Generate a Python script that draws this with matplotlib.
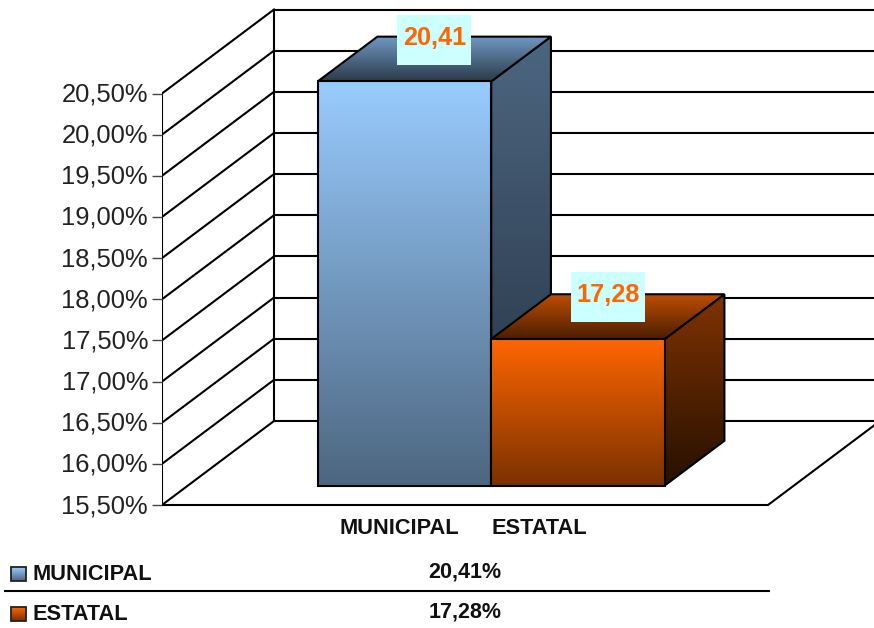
import matplotlib
matplotlib.use("Agg")
import matplotlib.pyplot as plt
import numpy as np
from matplotlib.colors import LinearSegmentedColormap
from matplotlib.patches import Polygon, Rectangle
from matplotlib.transforms import ScaledTranslation

plt.rcParams["font.family"] = ["Liberation Sans", "DejaVu Sans"]

categories = ["MUNICIPAL", "ESTATAL"]
values = [20.41, 17.28]
value_labels = ["20,41", "17,28"]
table_labels = ["20,41%", "17,28%"]
ticks = [15.5, 16.0, 16.5, 17.0, 17.5, 18.0, 18.5, 19.0, 19.5, 20.0, 20.5]
tick_labels = ["15,50%", "16,00%", "16,50%", "17,00%", "17,50%", "18,00%",
               "18,50%", "19,00%", "19,50%", "20,00%", "20,50%"]

# colours per bar: front, top, side as (start, end) of the gradient
front_cols = [("#99CCFF", "#4D6680"), ("#FF6600", "#7A3100")]
top_cols = [("#7099C4", "#2C3B4A"), ("#BF4D00", "#4A1F00")]
side_cols = [("#4D6680", "#223040"), ("#803300", "#261000")]

W, H = 874, 628
PX_PER_VAL = 82.3
PX_PER_CAT = 173.5
BASE_PX = 505
FIRST_BAR_PX = 378.5
WALL_PX = 162
DEPTH_X = 112 / PX_PER_CAT
DEPTH_Y = 84 / PX_PER_VAL

fig = plt.figure(figsize=(W / 100, H / 100), dpi=100)
ax = fig.add_axes([WALL_PX / W, 0, 1 - WALL_PX / W, 1])
ax2 = fig.add_axes([0, 0, 1, 1])
ax2.set_xlim(0, W)
ax2.set_ylim(H, 0)
ax2.axis("off")
ax2.patch.set_alpha(0)


def proj(x, v, d):
    return x + d * DEPTH_X, v + d * DEPTH_Y


def face(points, cols, z):
    # gradient filled polygon, runs top to bottom of the face
    pts = np.array(points)
    cmap = LinearSegmentedColormap.from_list("f", cols)
    im = ax.imshow(np.linspace(0, 1, 256).reshape(-1, 1), cmap=cmap, aspect="auto",
                   origin="upper", zorder=z,
                   extent=[pts[:, 0].min(), pts[:, 0].max(), pts[:, 1].min(), pts[:, 1].max()])
    poly = Polygon(pts, closed=True, fc="none", ec="black", lw=1.5, zorder=z + 0.1,
                   joinstyle="miter")
    ax.add_patch(poly)
    im.set_clip_path(poly)


wall_x = (WALL_PX - FIRST_BAR_PX) / PX_PER_CAT
right_x = (W - FIRST_BAR_PX) / PX_PER_CAT
floor_x = (768 - FIRST_BAR_PX) / PX_PER_CAT
lw = 1.5
back_x = proj(wall_x, 0, 1)[0]

# walls and gridlines
for t in ticks:
    x0, y0 = proj(wall_x, t, 0)
    x1, y1 = proj(wall_x, t, 1)
    ax.plot([x0, x1], [y0, y1], color="black", lw=lw, zorder=1)
    ax.plot([x1, right_x], [y1, y1], color="black", lw=lw, zorder=1)
ax.plot([wall_x, wall_x], [ticks[0], ticks[-1]], color="black", lw=lw, zorder=1)
ax.plot([back_x, back_x], [proj(0, ticks[0], 1)[1], proj(0, ticks[-1], 1)[1]],
        color="black", lw=lw, zorder=1)
fx, fy = proj(floor_x, ticks[0], 1)
ax.plot([wall_x, floor_x, fx], [ticks[0], ticks[0], fy], color="black", lw=lw, zorder=1)

# bars, front plane sits a quarter into the floor
d0, d1 = 0.232, 0.765
for i, v in enumerate(values):
    l, r = i - 0.5, i + 0.5
    z = 2 + i
    fl = proj(l, ticks[0], d0)
    fr = proj(r, ticks[0], d0)
    tl = proj(l, v, d0)
    tr = proj(r, v, d0)
    bl = proj(l, v, d1)
    br = proj(r, v, d1)
    sb = proj(r, ticks[0], d1)
    face([tr, br, sb, fr], side_cols[i], z)
    face([tl, bl, br, tr], top_cols[i], z + 0.2)
    face([fl, tl, tr, fr], front_cols[i], z + 0.4)

    # data label box
    cx, cy = (tl[0] + br[0]) / 2, br[1] - 1 / PX_PER_VAL
    ax.add_patch(Rectangle((cx - 37 / PX_PER_CAT, cy - 27 / PX_PER_VAL), 74 / PX_PER_CAT,
                           50 / PX_PER_VAL, fc="#CCFFFF", ec="none", zorder=6))
    ax.text(cx, cy, value_labels[i], ha="center", va="center", color="#FF6600",
            fontsize=18.2, fontweight="bold", zorder=7)

ax.set_xlim(wall_x, right_x)
ax.set_ylim(ticks[0] - (H - BASE_PX) / PX_PER_VAL, ticks[0] + BASE_PX / PX_PER_VAL)
ax.set_xticks([])
ax.set_yticks(ticks)
ax.set_yticklabels(tick_labels, fontsize=18.4, color="#222222")
ax.tick_params(axis="y", length=7, width=1, pad=3, color="#444444")
for lab in ax.get_yticklabels():
    lab.set_transform(lab.get_transform() + ScaledTranslation(0, 1.5 / 100, fig.dpi_scale_trans))
for s in ax.spines.values():
    s.set_visible(False)
ax.patch.set_alpha(0)

# category labels
for name, px in zip(categories, [399, 539]):
    ax2.text(px, 528, name, ha="center", va="center", fontsize=15.7, fontweight="bold",
             color="#111111")

# data table below the chart
rows_y = [574, 614]
for i, name in enumerate(categories):
    y = rows_y[i]
    cmap = LinearSegmentedColormap.from_list("s", front_cols[i])
    im = ax2.imshow(np.linspace(0, 1, 32).reshape(-1, 1), cmap=cmap, aspect="auto",
                    extent=[11, 26, y + 7, y - 7], zorder=2)
    ax2.add_patch(Rectangle((11, y - 7), 15, 14, fc="none", ec="#222222", lw=1.3, zorder=3))
    ax2.text(32, y, name, ha="left", va="center", fontsize=15.7, fontweight="bold",
             color="#111111")
    ax2.text(465, y - 2, table_labels[i], ha="center", va="center", fontsize=15.5,
             fontweight="bold", color="#111111")
ax2.plot([5, 769], [591, 591], color="black", lw=1.5)
ax2.set_xlim(0, W)
ax2.set_ylim(H, 0)

fig.savefig("out.png", dpi=100, facecolor="white")
